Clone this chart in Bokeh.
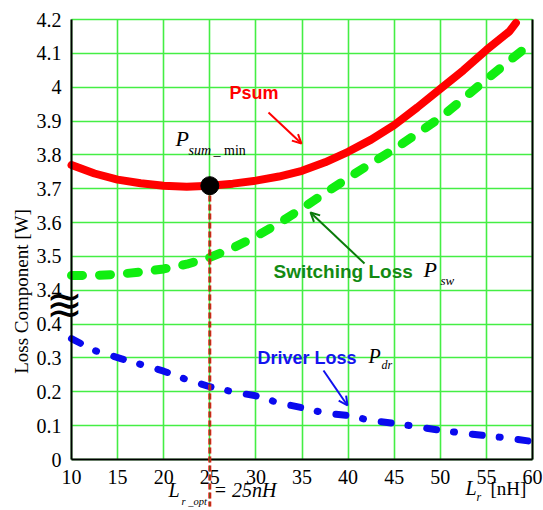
import numpy as np
from bokeh.plotting import figure
from bokeh.models import Range1d, FixedTicker, Label, Arrow, OpenHead, LinearAxis
from bokeh.embed import file_html
from bokeh.resources import INLINE

# ---------------- data ----------------
lr = [10, 12.5, 15, 17.5, 20, 22.5, 25, 27.5, 30, 32.5, 35, 37.5, 40, 42.5,
      45, 47.5, 50, 52.5, 55, 57.5, 60]
p_sw = [3.444, 3.444, 3.447, 3.454, 3.463, 3.477, 3.497, 3.525, 3.559, 3.598,
        3.642, 3.687, 3.732, 3.775, 3.817, 3.863, 3.910, 3.966, 4.023, 4.078, 4.133]
p_dr = [0.357, 0.322, 0.301, 0.281, 0.261, 0.236, 0.215, 0.200, 0.188, 0.167,
        0.153, 0.137, 0.130, 0.115, 0.107, 0.097, 0.086, 0.078, 0.070, 0.063, 0.053]
psum_x = [10, 12.5, 15, 17.5, 20, 22.5, 25, 27.5, 30, 32.5, 35, 37.5, 40, 42.5,
          45, 47.5, 50, 52.5, 55, 57.5, 58.2]
psum = [3.770, 3.745, 3.727, 3.716, 3.709, 3.706, 3.709, 3.715, 3.724, 3.736,
        3.753, 3.778, 3.809, 3.845, 3.888, 3.940, 3.995, 4.050, 4.110, 4.165, 4.19]
lr_opt = 25
psum_min = 3.709

x_ticks = [10, 15, 20, 25, 30, 35, 40, 45, 50, 55, 60]
y_ticks_lower = [0, 0.1, 0.2, 0.3, 0.4]
y_ticks_upper = [3.4, 3.5, 3.6, 3.7, 3.8, 3.9, 4.0, 4.1, 4.2]
y_tick_labels = ["0", "0.1", "0.2", "0.3", "0.4",
                 "3.4", "3.5", "3.6", "3.7", "3.8", "3.9", "4", "4.1", "4.2"]

# broken axis transform: 0..0.4 kept, 3.4..4.2 shifted to 0.5..1.3
BREAK_LOW, BREAK_HIGH, GAP = 0.4, 3.4, 0.1


def yt(v):
    return round(v if v <= 0.45 else v - BREAK_HIGH + BREAK_LOW + GAP, 9)


X0, X1, Y0, Y1 = 10, 60, 0.0, yt(4.2)

# ---------------- figure (frame = whole canvas, axes fixed inside) ----------------
W, H = 543, 510
FL, FT, FW, FH = 71, 19, 461, 440      # where the data area sits on the canvas


def dx(px):
    return X0 + (px - FL) / FW * (X1 - X0)


def dy(py):
    return Y0 + (FT + FH - py) / FH * (Y1 - Y0)


p = figure(width=W, height=H, x_range=Range1d(dx(0), dx(W)), y_range=Range1d(dy(H), dy(0)),
           output_backend="svg", toolbar_location=None, min_border=0)
p.outline_line_color = None
p.background_fill_color = "white"
p.border_fill_color = "white"

SERIF = "Liberation Serif"
SANS = "Liberation Sans"

ytick_pos = [yt(v) for v in y_ticks_lower + y_ticks_upper]
xa = p.xaxis[0]
ya = p.yaxis[0]
ya.ticker = FixedTicker(ticks=ytick_pos)
ya.major_label_overrides = {pos: lab for pos, lab in zip(ytick_pos, y_tick_labels)}
xa.ticker = FixedTicker(ticks=x_ticks)
xa.fixed_location = Y0
ya.fixed_location = X0
xa.bounds = (X0, X1)
ya.bounds = (Y0, Y1)

for ax in (xa, ya):
    ax.axis_line_color = "black"
    ax.axis_line_width = 2
    ax.major_tick_line_color = None
    ax.minor_tick_line_color = None
    ax.major_label_text_font = SERIF
    ax.major_label_text_font_size = "20px"
    ax.major_label_text_color = "black"
ya.major_label_standoff = 4
xa.major_label_standoff = 4

p.xgrid.bounds = (X0, X1)
p.xgrid.cross_bounds = (Y0, Y1)
p.ygrid.bounds = (Y0, Y1)
p.ygrid.cross_bounds = (X0, X1)
for g in (p.xgrid, p.ygrid):
    g.grid_line_color = "#44ee44"
    g.grid_line_width = 1.6

# right frame edge
right = LinearAxis(fixed_location=X1, bounds=(Y0, Y1), ticker=FixedTicker(ticks=[]),
                   axis_line_color="black", axis_line_width=2,
                   major_tick_line_color=None, minor_tick_line_color=None)
p.add_layout(right, "right")

# ---------------- curves ----------------
p.line(lr, [yt(v) for v in p_sw], line_color="#11ee11", line_width=9,
       line_dash="11 17", line_cap="round", line_join="round")
p.line(lr, p_dr, line_color="#0a0aee", line_width=7,
       line_dash="10 17 1 18", line_cap="round", line_join="round")
p.line(psum_x, [yt(v) for v in psum], line_color="#ff0000", line_width=8,
       line_cap="round", line_join="round")

# optimum marker and vertical guide
p.add_layout(Arrow(end=None, x_start=lr_opt, y_start=dy(195), x_end=lr_opt, y_end=dy(506),
                   line_color="#ff1010", line_width=3, line_dash="6 3"))
p.add_layout(Arrow(end=None, x_start=lr_opt, y_start=dy(195), x_end=lr_opt, y_end=dy(506),
                   line_color="#2a7a2a", line_width=1, line_dash="6 3"))
p.scatter([lr_opt], [yt(psum_min)], size=18, color="black")

# ---------------- arrows ----------------
p.add_layout(Arrow(end=OpenHead(size=9, line_color="#ff0000", line_width=2),
                   x_start=dx(268), y_start=dy(112), x_end=dx(301), y_end=dy(143),
                   line_color="#ff0000", line_width=2))
p.add_layout(Arrow(end=OpenHead(size=9, line_color="#0a7a0a", line_width=2),
                   x_start=dx(364), y_start=dy(263), x_end=dx(310), y_end=dy(212),
                   line_color="#0a7a0a", line_width=2))
p.add_layout(Arrow(end=OpenHead(size=9, line_color="#1010ee", line_width=2),
                   x_start=dx(323), y_start=dy(370), x_end=dx(347), y_end=dy(405),
                   line_color="#1010ee", line_width=2))


# ---------------- texts ----------------
def lab(px, py, text, size, color="black", font=SERIF, style="normal", **kw):
    p.add_layout(Label(x=dx(px), y=dy(py), text=text, text_font=font,
                       text_font_size=f"{size}px", text_font_style=style,
                       text_color=color, **kw))


lab(229, 102, "Psum", 18, "#ff0000", SANS, "bold")
lab(175, 150, "P", 22, style="italic")
lab(188, 157, "sum", 14, style="italic")
lab(213, 157, "_ min", 14)

lab(273, 281, "Switching Loss", 19, "#138a13", SANS, "bold")
lab(423, 281, "P", 22, style="italic")
lab(440, 287, "sw", 13, style="italic")

lab(257, 367, "Driver Loss", 18, "#1414ee", SANS, "bold")
lab(368, 366, "P", 20, style="italic")
lab(381, 371, "dr", 12, style="italic")

lab(168, 500, "L", 20, style="italic")
lab(181, 506, "r _opt", 10.5, style="italic")
lab(213, 500, "= 25nH", 20, style="italic")

lab(465, 498, "L", 20, style="italic")
lab(476, 503, "r", 12, style="italic")
lab(490, 498, "[nH]", 19)

lab(21, 291, "Loss Component [W]", 19, angle=np.pi / 2,
    text_align="center", text_baseline="middle")
lab(64, 304, "≋", 44, font="DejaVu Sans", text_align="center", text_baseline="middle")

open("out.html", "w").write(file_html(p, INLINE))
